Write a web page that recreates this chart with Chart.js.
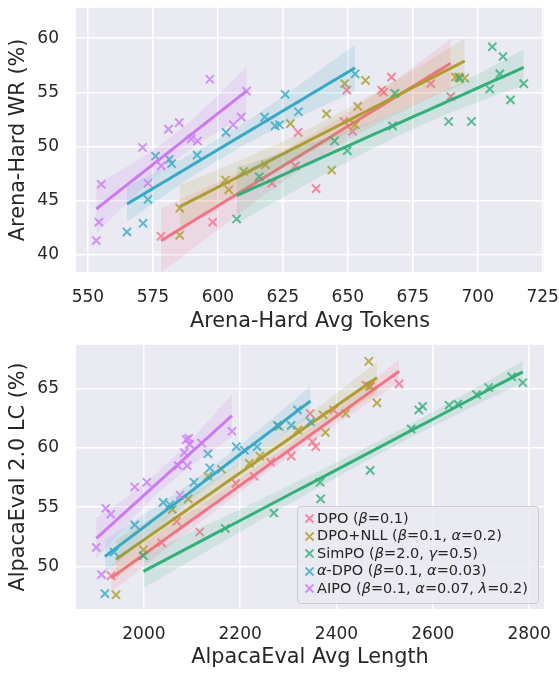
<!DOCTYPE html>
<html>
<head>
<meta charset="utf-8">
<script src="https://cdn.jsdelivr.net/npm/chart.js@4.4.1/dist/chart.umd.min.js"></script>
<style>
body{margin:0;background:#fff;font-family:"DejaVu Sans",sans-serif;}
#wrap{position:relative;width:559px;height:675px;overflow:hidden;}
canvas{position:absolute;left:0;}
#c1{top:0;}
#c2{top:337px;}
#legend{position:absolute;left:297px;top:505.5px;width:241.5px;height:98px;box-sizing:border-box;
  border:1px solid #cccccc;border-radius:4px;background:rgba(234,234,242,0.85);
  padding:3px 0 0 0;font-size:14.5px;color:#262626;}
#legend .row{height:17.6px;line-height:17.6px;white-space:nowrap;position:relative;padding-left:19px;}
#legend svg{position:absolute;left:6px;top:3.5px;}
</style>
</head>
<body>
<div id="wrap">
  <canvas id="c1" width="559" height="337"></canvas>
  <canvas id="c2" width="559" height="338"></canvas>
  <div id="legend"></div>
</div>
<script>
// ========= DATA =========
const methods = ['DPO', 'DPO+NLL', 'SimPO', 'α-DPO', 'AIPO'];
const legendLabels = [
  'DPO (<i>β</i>=0.1)',
  'DPO+NLL (<i>β</i>=0.1, <i>α</i>=0.2)',
  'SimPO (<i>β</i>=2.0, <i>γ</i>=0.5)',
  '<i>α</i>-DPO (<i>β</i>=0.1, <i>α</i>=0.03)',
  'AIPO (<i>β</i>=0.1, <i>α</i>=0.07, <i>λ</i>=0.2)'
];
const colors = ['#f77189', '#ae9d31', '#33b07a', '#38a9c5', '#cc7af4'];

// Arena-Hard (top)
const arenaDpoX    = [578.1, 598.0, 620.8, 629.8, 630.9, 637.8, 648.5, 649.6, 651.8, 663.0, 663.8, 666.8, 681.9, 689.6];
const arenaDpoY    = [41.7, 43.0, 46.6, 48.2, 51.3, 46.1, 52.3, 55.2, 51.4, 55.2, 55.0, 56.4, 55.8, 54.6];
const arenaNllX    = [585.3, 585.3, 602.9, 604.2, 609.9, 618.3, 627.9, 641.8, 643.8, 648.8, 652.8, 653.8, 656.8, 691.4, 692.7, 695.0];
const arenaNllY    = [44.3, 41.8, 46.9, 46.0, 47.7, 48.3, 52.1, 53.0, 47.8, 55.8, 52.0, 53.7, 56.1, 56.4, 56.4, 56.3];
const arenaSimpoX  = [607.2, 615.9, 644.9, 649.8, 667.2, 668.1, 688.8, 693.1, 697.6, 704.6, 705.6, 708.5, 709.7, 712.6, 717.7];
const arenaSimpoY  = [43.3, 47.2, 50.5, 49.6, 51.9, 54.9, 52.3, 56.3, 52.3, 55.3, 59.2, 56.7, 58.3, 54.3, 55.8];
const arenaAdpoX   = [565.0, 571.2, 573.1, 576.0, 581.3, 582.2, 592.0, 603.1, 618.0, 622.0, 623.7, 625.9, 631.0, 652.8];
const arenaAdpoY   = [42.1, 42.9, 45.1, 49.1, 48.8, 48.4, 49.2, 51.3, 52.7, 51.9, 52.0, 54.8, 53.2, 56.7];
const arenaAipoX   = [553.2, 554.2, 555.1, 571.0, 573.1, 578.2, 581.0, 585.1, 589.7, 592.2, 596.9, 605.9, 609.0, 611.0];
const arenaAipoY   = [41.3, 43.0, 46.5, 49.9, 46.6, 48.2, 51.6, 52.2, 50.7, 50.5, 56.2, 52.0, 52.7, 55.1];

// AlpacaEval (bottom)
const alpacaDpoX   = [1932, 2037, 2068, 2116, 2191, 2229, 2263, 2306, 2345, 2350, 2357, 2394, 2461, 2471, 2530];
const alpacaDpoY   = [49.2, 52.0, 53.8, 52.9, 57.0, 57.6, 58.8, 59.3, 62.9, 60.5, 60.1, 63.2, 65.3, 65.2, 65.4];
const alpacaNllX   = [1942, 1999, 2059, 2092, 2133, 2161, 2219, 2241, 2281, 2320, 2372, 2377, 2419, 2467, 2468, 2484];
const alpacaNllY   = [47.6, 51.4, 54.8, 55.7, 57.6, 58.2, 58.7, 59.3, 61.8, 61.5, 62.8, 61.3, 62.9, 67.3, 65.2, 63.8];
const alpacaSimpoX = [1999, 2169, 2270, 2366, 2367, 2470, 2555, 2571, 2579, 2634, 2652, 2691, 2716, 2764, 2787];
const alpacaSimpoY = [50.9, 53.2, 54.5, 57.1, 55.7, 58.1, 61.6, 63.2, 63.5, 63.6, 63.7, 64.5, 65.1, 66.0, 65.5];
const alpacaAdpoX  = [1919, 1938, 1981, 2040, 2054, 2104, 2133, 2137, 2192, 2209, 2235, 2277, 2306, 2319, 2346];
const alpacaAdpoY  = [47.7, 51.2, 53.5, 55.4, 55.2, 57.1, 59.5, 58.3, 60.1, 59.8, 60.1, 61.9, 61.9, 63.2, 62.2];
const alpacaAipoX  = [1901, 1912, 1921, 1931, 1981, 2006, 2071, 2075, 2084, 2088, 2090, 2093, 2095, 2120, 2183];
const alpacaAipoY  = [51.6, 49.3, 54.9, 54.4, 56.7, 57.1, 58.5, 56.0, 59.6, 60.7, 58.5, 60.8, 60.3, 60.4, 61.4];

// ticks
const arenaXTicks  = [550, 575, 600, 625, 650, 675, 700, 725];
const arenaYTicks  = [40, 45, 50, 55, 60];
const alpacaXTicks = [2000, 2200, 2400, 2600, 2800];
const alpacaYTicks = [50, 55, 60, 65];

// ========= HELPERS =========
const rgba = (hex, a) => {
  const n = parseInt(hex.slice(1), 16);
  return `rgba(${n >> 16},${(n >> 8) & 255},${n & 255},${a})`;
};
const tval = df => 1.96 + 2.37 / df + 2.8 / (df * df);

// linear fit + 95% CI of the mean, like seaborn regplot
function regression(xs, ys) {
  const n = xs.length;
  const mx = xs.reduce((a, b) => a + b, 0) / n;
  const my = ys.reduce((a, b) => a + b, 0) / n;
  let sxx = 0, sxy = 0;
  xs.forEach((x, i) => { sxx += (x - mx) ** 2; sxy += (x - mx) * (ys[i] - my); });
  const b = sxy / sxx, a = my - b * mx;
  let sse = 0;
  xs.forEach((x, i) => { sse += (ys[i] - a - b * x) ** 2; });
  const s = Math.sqrt(sse / (n - 2)), t = tval(n - 2);
  const lo = Math.min(...xs), hi = Math.max(...xs);
  const line = [], upper = [], lower = [];
  const steps = 40;
  for (let k = 0; k <= steps; k++) {
    const x = lo + (hi - lo) * k / steps;
    const y = a + b * x;
    const se = s * Math.sqrt(1 / n + (x - mx) ** 2 / sxx);
    line.push({x, y});
    upper.push({x, y: y + t * se});
    lower.push({x, y: y - t * se});
  }
  return {line, upper, lower};
}

function buildDatasets(xsList, ysList) {
  const out = [];
  xsList.forEach((xs, g) => {
    const ys = ysList[g];
    const c = colors[g];
    const fit = regression(xs, ys);
    const base = 1000 - g * 10;
    out.push({
      type: 'scatter', label: methods[g], order: base,
      data: xs.map((x, i) => ({x, y: ys[i]})),
      pointStyle: 'crossRot', pointRadius: 5.8, pointHoverRadius: 5.8,
      borderColor: rgba(c, 0.8), backgroundColor: rgba(c, 0.8), pointBorderWidth: 2
    });
    out.push({
      type: 'line', order: base - 1, data: fit.upper,
      borderWidth: 0, pointRadius: 0, fill: '+1', backgroundColor: rgba(c, 0.15)
    });
    out.push({
      type: 'line', order: base - 2, data: fit.lower,
      borderWidth: 0, pointRadius: 0, fill: false
    });
    out.push({
      type: 'line', order: base - 3, data: fit.line,
      borderColor: c, borderWidth: 3, pointRadius: 0, fill: false
    });
  });
  return out;
}

const bgPlugin = {
  id: 'bg',
  beforeDraw(chart) {
    const {ctx, chartArea: a} = chart;
    ctx.save();
    ctx.fillStyle = '#eaeaf2';
    ctx.fillRect(a.left, a.top, a.right - a.left, a.bottom - a.top);
    ctx.restore();
  }
};

const font = size => ({family: '"DejaVu Sans", sans-serif', size});
const plain = v => String(v);

function makeChart(id, datasets, cfg) {
  return new Chart(document.getElementById(id), {
    type: 'scatter',
    data: {datasets},
    plugins: [bgPlugin],
    options: {
      responsive: false, animation: false, devicePixelRatio: 1,
      layout: {padding: {top: 2, right: 15, left: 0, bottom: 0}},
      plugins: {legend: {display: false}, tooltip: {enabled: false}},
      scales: {
        x: {
          type: 'linear', min: cfg.xMin, max: cfg.xMax,
          grid: {color: '#ffffff', lineWidth: 1.5, drawTicks: false},
          border: {display: false},
          ticks: {font: font(17), color: '#262626', padding: 15, callback: plain},
          afterBuildTicks: s => { s.ticks = cfg.xTicks.map(v => ({value: v})); },
          afterFit: s => { s.height = cfg.xHeight; s.paddingLeft = 0; s.paddingRight = 0; },
          title: {display: true, text: cfg.xTitle, font: font(20.8), color: '#262626', padding: {top: 0, bottom: cfg.xTitlePad}}
        },
        y: {
          type: 'linear', min: cfg.yMin, max: cfg.yMax,
          grid: {color: '#ffffff', lineWidth: 1.5, drawTicks: false},
          border: {display: false},
          ticks: {font: font(17), color: '#262626', padding: 17, callback: plain},
          afterBuildTicks: s => { s.ticks = cfg.yTicks.map(v => ({value: v})); },
          afterFit: s => { s.width = 76; s.paddingTop = 0; s.paddingBottom = 0; },
          title: {display: true, text: cfg.yTitle, font: font(20.8), color: '#262626', padding: {top: 6.5, bottom: 0}}
        }
      }
    }
  });
}

// ========= CHARTS =========
makeChart('c1',
  buildDatasets([arenaDpoX, arenaNllX, arenaSimpoX, arenaAdpoX, arenaAipoX],
                [arenaDpoY, arenaNllY, arenaSimpoY, arenaAdpoY, arenaAipoY]),
  {xMin: 545.4, xMax: 725.5, yMin: 38.4, yMax: 62.8, xTicks: arenaXTicks, yTicks: arenaYTicks,
   xHeight: 65, xTitlePad: 3.4, xTitle: 'Arena-Hard Avg Tokens', yTitle: 'Arena-Hard WR (%)'});

makeChart('c2',
  buildDatasets([alpacaDpoX, alpacaNllX, alpacaSimpoX, alpacaAdpoX, alpacaAipoX],
                [alpacaDpoY, alpacaNllY, alpacaSimpoY, alpacaAdpoY, alpacaAipoY]),
  {xMin: 1859, xMax: 2831, yMin: 46.4, yMax: 68.7, xTicks: alpacaXTicks, yTicks: alpacaYTicks,
   xHeight: 66, xTitlePad: 4.7, xTitle: 'AlpacaEval Avg Length', yTitle: 'AlpacaEval 2.0 LC (%)'});

// ========= LEGEND =========
const legend = document.getElementById('legend');
legendLabels.forEach((lab, i) => {
  const row = document.createElement('div');
  row.className = 'row';
  const c = rgba(colors[i], 0.8);
  row.innerHTML = `<svg width="11" height="11"><path d="M1.5 1.5L9.5 9.5M9.5 1.5L1.5 9.5" stroke="${c}" stroke-width="2"/></svg>${lab}`;
  legend.appendChild(row);
});
</script>
</body>
</html>
